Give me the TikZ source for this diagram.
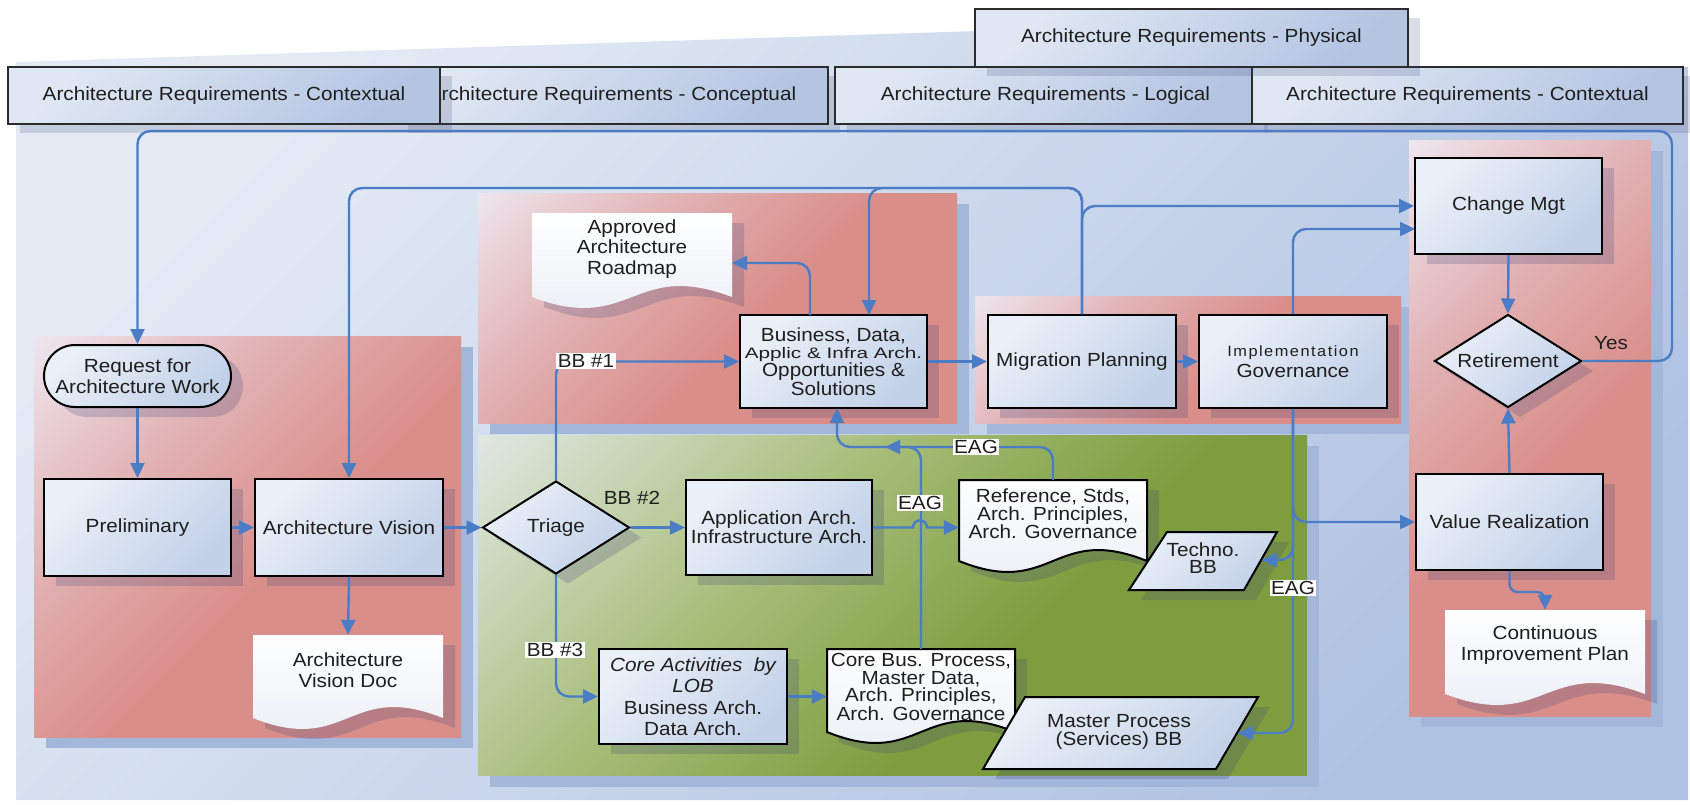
\documentclass[tikz,border=0pt]{standalone}
\usepackage{fontspec}
\usepackage{graphicx}
\setmainfont[FakeStretch=1.09]{Liberation Sans}
\usetikzlibrary{shapes.geometric,shadows,arrows.meta,calc}
\definecolor{bgA}{HTML}{E3EAF4}
\definecolor{bgM}{HTML}{C6D4EB}
\definecolor{bgB}{HTML}{AFC2E2}
\definecolor{redA}{HTML}{EEE7EF}
\definecolor{redM}{HTML}{E1B0B2}
\definecolor{redB}{HTML}{D98E89}
\definecolor{grnA}{HTML}{E0E6E0}
\definecolor{grnM}{HTML}{A6BD78}
\definecolor{grnB}{HTML}{7E9D3E}
\definecolor{boxA}{HTML}{EBF0F8}
\definecolor{boxB}{HTML}{C2D1E8}
\definecolor{reqA}{HTML}{DFE7F3}
\definecolor{reqB}{HTML}{B4C5E2}
\definecolor{reqline}{HTML}{2B2B2B}
\definecolor{connc}{HTML}{4A7DC6}
\definecolor{pshc}{HTML}{A3B7DB}
\definecolor{shc}{HTML}{3C4478}
\definecolor{docB}{HTML}{E8ECF4}
\definecolor{txtc}{HTML}{1E1E1E}
\pgfdeclareverticalshading{redlin}{100bp}{color(0bp)=(redB); color(45bp)=(redB); color(64bp)=(redM); color(86bp)=(redA); color(100bp)=(redA)}
\pgfdeclareverticalshading{grnlin}{100bp}{color(0bp)=(grnB); color(40bp)=(grnB); color(60bp)=(grnM); color(85bp)=(grnA); color(100bp)=(grnA)}
\newcommand{\docshape}[5]{\path[#1] (#2,#3) -- (#4,#3) -- (#4,#5) .. controls ({(#2+#4)/2},{#5-38}) and ({(#2+#4)/2},{#5+38}) .. (#2,#5) -- cycle;}
\begin{document}
\begin{tikzpicture}[x=1pt,y=-1pt,
 txt/.style={font=\fontsize{19}{20.5}\selectfont, text=txtc, align=center, inner sep=1pt},
 tight/.style={font=\fontsize{19}{17.5}\selectfont},
 shadowed/.style={drop shadow={shadow xshift=12pt, shadow yshift=-10pt, fill=shc, opacity=0.22}},
 box/.style={txt, draw=black, line width=2pt, top color=boxA, bottom color=boxB, shading angle=45, shadowed},
 dia/.style={box, diamond, aspect=1.58, inner sep=0pt},
 reqbox/.style={txt, draw=reqline, line width=1.4pt, top color=reqA, bottom color=reqB, shading angle=45, minimum height=57pt, drop shadow={shadow xshift=12pt, shadow yshift=-9pt, fill=shc, opacity=0.18}},
 redpanel/.style={shading=redlin, shading angle=45},
 greenpanel/.style={shading=grnlin, shading angle=45},
 docfill/.style={top color=white, bottom color=docB},
 docline/.style={docfill, draw=black, line width=2pt},
 docshadow/.style={fill=shc, opacity=0.22, shift={(12,10)}},
 pgram/.style={draw=black, line width=2pt, top color=boxA, bottom color=boxB, shading angle=45},
 conn/.style={draw=connc, line width=2.4pt, rounded corners=13pt, -{Triangle[length=15pt,width=14pt]}},
 lbl/.style={txt, fill=white, inner sep=1.5pt},
 area/.style={txt, inner sep=0pt}
]
\useasboundingbox (0,0) rectangle (1690,804);
% background
\shade[top color=bgA, middle color=bgM, bottom color=bgB, shading angle=45] (16,62) -- (977,31) -- (977,67) -- (1688,67) -- (1688,800) -- (16,800) -- cycle;
% requirement boxes
\node[reqbox, minimum width=432pt] (rconc) at (612,95.5) {Architecture Requirements - Conceptual};
\node[reqbox, minimum width=432pt] (rcont1) at (224,95.5) {Architecture Requirements - Contextual};
\node[reqbox, minimum width=421pt] (rlog) at (1045.5,95.5) {Architecture Requirements - Logical};
\node[reqbox, minimum width=431pt] (rcont2) at (1467.5,95.5) {Architecture Requirements - Contextual};
\node[reqbox, minimum width=433pt, minimum height=58pt] (rphys) at (1191.5,38) {Architecture Requirements - Physical};
% panel shadows
\fill[pshc] (46,347) rectangle (473,748);
\fill[pshc] (490,204) rectangle (969,434);
\fill[pshc] (987,307) rectangle (1413,434);
\fill[pshc] (1421,151) rectangle (1663,727);
\fill[pshc] (490,446) rectangle (1319,787);
% panels
\shade[redpanel] (34,336) rectangle (461,737);
\shade[redpanel] (478,193) rectangle (957,423);
\shade[redpanel] (975,296) rectangle (1401,423);
\shade[redpanel] (1409,140) rectangle (1651,716);
\shade[greenpanel] (478,435) rectangle (1307,775);
% left panel nodes
\node[box, rounded corners=31pt, minimum width=187pt, minimum height=62pt] (req) at (137.5,376) {Request for\\Architecture Work};
\node[box, minimum width=187pt, minimum height=97pt] (prelim) at (137.5,527.5) {Preliminary};
\node[box, minimum width=188pt, minimum height=97pt] (av) at (349,527.5) {Architecture Vision};
\docshape{docshadow}{253}{635}{443}{718}
\docshape{docfill}{253}{635}{443}{718}
\node[area, minimum width=190pt, minimum height=70pt] (avdoc) at (348,670) {Architecture\\Vision Doc};
% top middle panel
\docshape{docshadow}{532}{213}{732}{297}
\docshape{docfill}{532}{213}{732}{297}
\node[area, minimum width=200pt, minimum height=72pt] (rm) at (632,249) {Approved\\Architecture\\Roadmap};
\node[box, tight, minimum width=187pt, minimum height=93pt] (biz) at (833.5,361.5) {Business, Data,\\\scalebox{1}[0.8]{Applic \& Infra Arch.}\\Opportunities \&\\Solutions};
% MP / IG
\node[box, minimum width=188pt, minimum height=93pt] (mp) at (1082,361.5) {Migration Planning};
\node[box, minimum width=188pt, minimum height=93pt] (ig) at (1293,361.5) {{\fontsize{15}{17}\selectfont\addfontfeatures{LetterSpace=10}Implementation}\\Governance};
% right panel
\node[box, minimum width=187pt, minimum height=96pt] (cm) at (1508.5,206) {Change Mgt};
\node[dia, minimum width=147pt, minimum height=93pt] (ret) at (1508,361) {Retirement};
\node[box, minimum width=187pt, minimum height=96pt] (vr) at (1509.5,522) {Value Realization};
\docshape{docshadow}{1445}{610}{1645}{694}
\docshape{docfill}{1445}{610}{1645}{694}
\node[area, minimum width=200pt, minimum height=70pt] (cip) at (1545,645) {Continuous\\Improvement Plan};
% green panel
\node[dia, minimum width=147pt, minimum height=93pt] (tri) at (556,527.5) {Triage};
\node[box, tight, minimum width=186pt, minimum height=95pt] (app) at (779,527.5) {Application Arch.\\Infrastructure Arch.};
\node[box, font=\fontsize{19}{21.5}\selectfont, minimum width=188pt, minimum height=95pt] (core) at (693,696.5) {{\itshape Core Activities\ \ by}\\{\itshape LOB}\\Business Arch.\\Data Arch.};
\docshape{docshadow}{959}{480}{1147}{561}
\docshape{docline}{959}{480}{1147}{561}
\node[area, tight, minimum width=188pt, minimum height=68pt] (ref) at (1053,514) {Reference, Stds,\\Arch. Principles,\\Arch. Governance};
\path[fill=shc, opacity=0.22, shift={(12,10)}] (1167,532) -- (1277,532) -- (1244,590) -- (1129,590) -- cycle;
\path[pgram] (1167,532) -- (1277,532) -- (1244,590) -- (1129,590) -- cycle;
\node[area, tight] (techno) at (1203,558) {Techno.\\BB};
\docshape{docshadow}{827}{649}{1015}{732}
\docshape{docline}{827}{649}{1015}{732}
\node[area, tight, minimum width=188pt, minimum height=76pt] (cbp) at (921,687) {Core Bus. Process,\\Master Data,\\Arch. Principles,\\Arch. Governance};
\path[fill=shc, opacity=0.22, shift={(12,10)}] (1025,697) -- (1258,697) -- (1216,769) -- (983,769) -- cycle;
\path[pgram] (1025,697) -- (1258,697) -- (1216,769) -- (983,769) -- cycle;
\node[area, tight] (mpb) at (1119,732) {Master Process\\(Services) BB};
% connector end points
\coordinate (bizin) at (869,315);
\coordinate (bizout) at (810,315);
\coordinate (bizin2) at (837,408);
\coordinate (rmin) at (732,263);
\coordinate (eagm) at (885,447);
\coordinate (t2) at (1082,188);
\coordinate (cmin2) at (1415,229);
\coordinate (techin) at (1262,560);
\coordinate (mpbin) at (1238,733);
\coordinate (loopR) at (1672,131);
% connectors
\draw[conn] (req.south) -- (prelim.north);
\draw[conn] (prelim.east) -- (av.west);
\draw[conn] (av.east) -- (tri.west);
\draw[conn] (av.south) -- (avdoc.north);
\draw[conn] (tri.north) |- (biz.west);
\draw[conn] (tri.east) -- (app.west);
\draw[conn] (tri.south) |- (core.west);
\draw[conn] (core.east) -- (core.east -| cbp.west);
\draw[conn, rounded corners=0pt] (app.east) -- (913,527.5) .. controls (913,518) and (927,518) .. (927,527.5) -- (app.east -| ref.west);
\draw[conn] (cbp.north) |- (bizin2 |- eagm) -- (bizin2);
\draw[conn] (ref.north) |- (eagm);
\draw[conn] (bizout) |- (rmin);
\draw[conn] (biz.east) -- (mp.west);
\draw[conn] (mp.east) -- (ig.west);
\draw[conn] (mp.north) |- (t2 -| bizin) -- (bizin);
\draw[conn] (mp.north) |- (av.north |- t2) -- (av.north);
\draw[conn] (mp.north) |- (cm.west);
\draw[conn] (ig.north) |- (cmin2);
\draw[conn] (ig.south) |- (vr.west);
\draw[conn] (ig.south) |- (techin);
\draw[conn] (ig.south) |- (mpbin);
\draw[conn] (cm.south) -- (ret.north);
\draw[conn] (vr.north) -- (ret.south);
\draw[conn, rounded corners=8pt] (vr.south) -- ++(0,21) -| (cip.north);
\draw[conn] (ret.east) -| (loopR) -| (req.north);
% labels
\node[lbl] (bb1) at (586,361) {BB \#1};
\node[txt] (bb2) at (632,498) {BB \#2};
\node[lbl] (bb3) at (555,650) {BB \#3};
\node[lbl] (eag1) at (920,503) {EAG};
\node[lbl] (eag2) at (976,447) {EAG};
\node[lbl] (eag3) at (1293,588) {EAG};
\node[txt] (yes) at (1611,343) {Yes};
\end{tikzpicture}
\end{document}
